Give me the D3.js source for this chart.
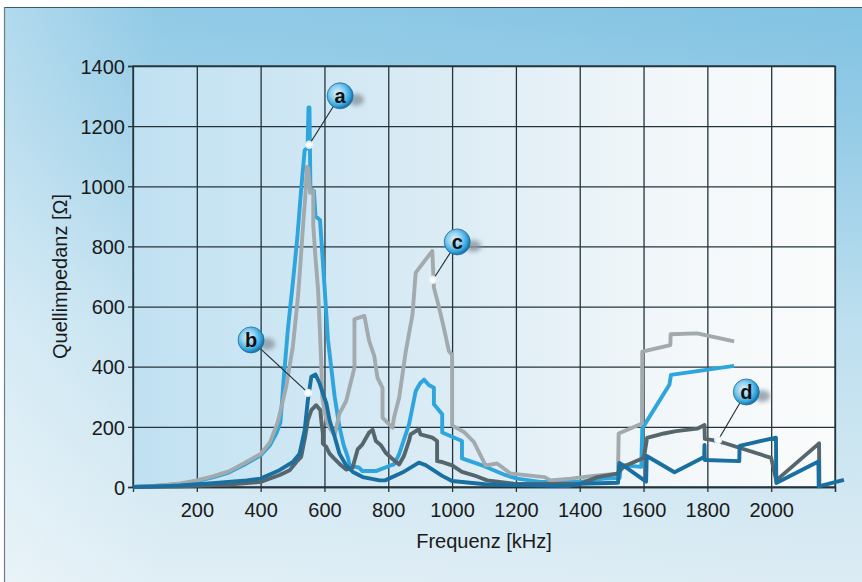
<!DOCTYPE html>
<html><head><meta charset="utf-8">
<script src="https://cdn.jsdelivr.net/npm/d3@7"></script>
<style>
html,body{margin:0;padding:0;background:#fff;}
svg{display:block;font-family:"Liberation Sans",Arial,Helvetica,sans-serif;}
</style></head>
<body>
<svg id="chart" width="862" height="582"></svg>
<script>
// ---- data (frequency kHz, impedance Ohm) ----
const xTicks = [200,400,600,800,1000,1200,1400,1600,1800,2000,2200];
const xTickLabels = ["200","400","600","800","1000","1200","1400","1600","1800","2000",""];
const yTicks = [0,200,400,600,800,1000,1200,1400];
const yTickLabels = ["0","200","400","600","800","1000","1200","1400"];
const xTitle = "Frequenz [kHz]";
const yTitle = "Quellimpedanz [Ω]";

const seriesA = [[0,0],[50,2],[100,6],[150,10],[200,20],[250,32],[300,48],[350,75],[400,105],[430,140],[450,180],[462,215],[472,355],[485,520],[502,690],[515,830],[527,990],[538,1120],[547,1128],[550,1262],[553,1262],[556,990],[567,985],[572,900],[586,888],[601,655],[611,490],[622,390],[632,300],[647,200],[660,140],[673,100],[679,72],[709,64],[719,53],[761,53],[803,70],[818,75],[834,109],[865,208],[886,319],[900,345],[912,357],[927,339],[943,330],[943,275],[969,242],[969,181],[1031,153],[1031,95],[1099,70],[1166,40],[1204,28],[1277,17],[1402,17],[1476,28],[1525,30],[1529,73],[1593,67],[1596,195],[1681,340],[1686,373],[1884,403]];
const seriesB = [[0,0],[100,3],[146,5],[250,13],[355,22],[400,28],[459,56],[501,83],[522,111],[538,189],[548,289],[559,367],[572,374],[585,344],[595,311],[606,278],[616,222],[632,167],[647,111],[668,72],[689,50],[720,33],[773,22],[790,22],[844,48],[896,81],[917,73],[969,37],[1000,20],[1104,9],[1364,3],[1402,11],[1520,14],[1524,80],[1545,65],[1608,18],[1610,103],[1697,49],[1790,100],[1791,140],[1792,90],[1900,86],[1901,137],[2015,164],[2016,13],[2148,85],[2149,2],[2228,24]];
const seriesC = [[0,0],[50,3],[100,7],[150,12],[200,22],[250,35],[300,52],[350,80],[400,110],[430,150],[454,217],[480,333],[501,467],[517,633],[524,732],[535,900],[539,950],[545,1065],[549,1060],[555,978],[565,985],[565,870],[572,760],[580,656],[590,411],[593,300],[606,222],[620,190],[632,172],[647,244],[668,286],[694,397],[694,558],[725,569],[740,486],[756,436],[766,364],[782,330],[782,231],[813,197],[818,231],[834,297],[855,452],[876,574],[886,713],[938,785],[943,663],[958,602],[974,530],[990,452],[1000,439],[1000,205],[1037,183],[1068,150],[1105,72],[1141,78],[1183,45],[1208,42],[1290,33],[1308,22],[1371,28],[1450,38],[1520,44],[1522,178],[1595,211],[1596,450],[1684,472],[1685,508],[1768,511],[1884,484]];
const seriesD = [[0,0],[150,2],[300,8],[400,17],[460,40],[491,56],[512,83],[527,100],[540,170],[548,222],[559,256],[574,272],[587,256],[590,222],[595,178],[595,144],[606,133],[616,111],[630,95],[652,72],[668,58],[688,64],[704,125],[719,142],[740,181],[751,190],[761,153],[776,140],[792,114],[808,98],[834,75],[849,103],[865,153],[870,175],[896,192],[901,175],[938,164],[953,153],[953,86],[969,83],[1000,72],[1031,50],[1068,39],[1110,22],[1193,11],[1400,10],[1455,33],[1517,44],[1538,68],[1601,97],[1611,163],[1664,178],[1702,186],[1768,194],[1791,206],[1792,160],[1817,156],[1848,148],[2000,97],[2016,22],[2150,145],[2151,8]];

const labelNames = ["a","b","c","d"];
const labelDots = [[552,1138],[549,313],[940,689],[1834,156]];
const labelBubbles = [[649,1301],[370,489],[1016,815],[1922,316]];

// ---- drawing ----
const svg = d3.select("#chart");
const W = 862, H = 582;
const x = d3.scaleLinear().domain([0,2200]).range([133,835]);
const y = d3.scaleLinear().domain([0,1400]).range([487,66]);

const defs = svg.append("defs");
const pg = defs.append("linearGradient").attr("id","panelG").attr("x1",0).attr("y1",0).attr("x2",0).attr("y2",1);
[[0,"#82c3e3"],[0.2,"#94cbe6"],[0.55,"#bddfef"],[1,"#dcecf4"]].forEach(s=>pg.append("stop").attr("offset",s[0]).attr("stop-color",s[1]));
const pl = defs.append("linearGradient").attr("id","panelL").attr("x1",0).attr("y1",0).attr("x2",1).attr("y2",0);
[[0,"#ffffff",0.38],[0.18,"#ffffff",0.12],[1,"#ffffff",0]].forEach(s=>pl.append("stop").attr("offset",s[0]).attr("stop-color",s[1]).attr("stop-opacity",s[2]));
const ag = defs.append("linearGradient").attr("id","plotG").attr("x1",0).attr("y1",0).attr("x2",1).attr("y2",0);
[[0,"#c0e1f2"],[0.45,"#dcecf5"],[0.8,"#f4f8fa"],[1,"#fafbfb"]].forEach(s=>ag.append("stop").attr("offset",s[0]).attr("stop-color",s[1]));
const bg = defs.append("radialGradient").attr("id","bubG").attr("cx","40%").attr("cy","40%").attr("r","60%");
[[0,"#e4f5fc"],[0.45,"#8fd0f0"],[0.8,"#33a5de"],[1,"#1c72a5"]].forEach(s=>bg.append("stop").attr("offset",s[0]).attr("stop-color",s[1]));
const blur = defs.append("filter").attr("id","blur").attr("x","-50%").attr("y","-50%").attr("width","200%").attr("height","200%");
blur.append("feGaussianBlur").attr("stdDeviation",2.2);

// panel
svg.append("rect").attr("x",0).attr("y",0).attr("width",W).attr("height",H).attr("fill","#fff");
svg.append("rect").attr("x",4).attr("y",7).attr("width",W-4).attr("height",H-7).attr("fill","url(#panelG)");
svg.append("rect").attr("x",4).attr("y",7).attr("width",W-4).attr("height",H-7).attr("fill","url(#panelL)");
svg.append("line").attr("x1",4).attr("x2",W).attr("y1",7.5).attr("y2",7.5).attr("stroke","#3d5663").attr("stroke-width",1.2);
svg.append("line").attr("x1",4.5).attr("x2",4.5).attr("y1",7).attr("y2",H).attr("stroke","#6a7f8a").attr("stroke-width",1.2);

// plot area
svg.append("rect").attr("x",x(0)).attr("y",y(1400)).attr("width",x(2200)-x(0)).attr("height",y(0)-y(1400)).attr("fill","url(#plotG)");

// grid
const grid = svg.append("g");
grid.append("g").attr("transform",`translate(0,${y(0)})`)
  .call(d3.axisBottom(x).tickValues(xTicks).tickSize(-(y(0)-y(1400))).tickFormat(""))
  .call(g=>g.select(".domain").remove())
  .call(g=>g.selectAll("line").attr("stroke","#24343c").attr("stroke-width",1.3));
grid.append("g").attr("transform",`translate(${x(0)},0)`)
  .call(d3.axisLeft(y).tickValues(yTicks).tickSize(-(x(2200)-x(0))).tickFormat(""))
  .call(g=>g.select(".domain").remove())
  .call(g=>g.selectAll("line").attr("stroke","#24343c").attr("stroke-width",1.3));
svg.append("rect").attr("x",x(0)).attr("y",y(1400)).attr("width",x(2200)-x(0)).attr("height",y(0)-y(1400))
  .attr("fill","none").attr("stroke","#24343c").attr("stroke-width",1.3);

// axes
const xa = svg.append("g").attr("transform",`translate(0,${y(0)})`)
  .call(d3.axisBottom(x).tickValues(xTicks).tickSize(5).tickPadding(6).tickFormat((d,i)=>xTickLabels[i]));
xa.select(".domain").attr("stroke","#24343c").attr("stroke-width",1.3);
xa.selectAll("line").attr("stroke","#24343c").attr("stroke-width",1.3);
xa.selectAll("text").attr("font-size",20).attr("fill","#1a1a1a").attr("font-family","'Liberation Sans',Arial,sans-serif").attr("dy","0.95em");
const ya = svg.append("g").attr("transform",`translate(${x(0)},0)`)
  .call(d3.axisLeft(y).tickValues(yTicks).tickSize(5).tickPadding(3).tickFormat((d,i)=>yTickLabels[i]));
ya.select(".domain").attr("stroke","#24343c").attr("stroke-width",1.3);
ya.selectAll("line").attr("stroke","#24343c").attr("stroke-width",1.3);
ya.selectAll("text").attr("font-size",20).attr("fill","#1a1a1a").attr("font-family","'Liberation Sans',Arial,sans-serif").attr("dy","0.36em");

svg.append("text").attr("x",(x(0)+x(2200))/2).attr("y",548).attr("text-anchor","middle")
  .attr("font-size",20).attr("fill","#1a1a1a").text(xTitle);
svg.append("text").attr("transform",`translate(67,${(y(0)+y(1400))/2}) rotate(-90)`).attr("text-anchor","middle")
  .attr("font-size",20).attr("fill","#1a1a1a").text(yTitle);

// series
const line = d3.line().x(d=>x(d[0])).y(d=>y(d[1]));
const series = [
  {data:seriesA, color:"#2ea5dd"},
  {data:seriesC, color:"#a2aaae"},
  {data:seriesD, color:"#56666d"},
  {data:seriesB, color:"#1a6fa1"}
];
svg.append("g").selectAll("path").data(series).join("path")
  .attr("d",d=>line(d.data)).attr("fill","none").attr("stroke",d=>d.color)
  .attr("stroke-width",3.9).attr("stroke-linejoin","round").attr("stroke-linecap","butt");

// callout labels
const lab = svg.append("g").selectAll("g").data(labelNames).join("g");
lab.append("line")
  .attr("x1",(d,i)=>x(labelBubbles[i][0])).attr("y1",(d,i)=>y(labelBubbles[i][1]))
  .attr("x2",(d,i)=>x(labelDots[i][0])).attr("y2",(d,i)=>y(labelDots[i][1]))
  .attr("stroke","#1d2a30").attr("stroke-width",1.1);
lab.append("circle").attr("cx",(d,i)=>x(labelDots[i][0])).attr("cy",(d,i)=>y(labelDots[i][1]))
  .attr("r",4.2).attr("fill","#eef4f6").attr("opacity",0.9);
lab.append("circle").attr("cx",(d,i)=>x(labelDots[i][0])).attr("cy",(d,i)=>y(labelDots[i][1]))
  .attr("r",2.6).attr("fill","#ffffff");
lab.append("ellipse").attr("cx",(d,i)=>x(labelBubbles[i][0])+16).attr("cy",(d,i)=>y(labelBubbles[i][1])+4)
  .attr("rx",8).attr("ry",6).attr("fill","#8797a0").attr("opacity",0.8).attr("filter","url(#blur)");
lab.append("circle").attr("cx",(d,i)=>x(labelBubbles[i][0])).attr("cy",(d,i)=>y(labelBubbles[i][1]))
  .attr("r",13).attr("fill","url(#bubG)").attr("stroke","#1f6e9c").attr("stroke-width",0.8);
lab.append("text").attr("x",(d,i)=>x(labelBubbles[i][0])).attr("y",(d,i)=>y(labelBubbles[i][1]))
  .attr("text-anchor","middle").attr("dy","0.36em").attr("font-size",20).attr("font-weight","bold")
  .attr("fill","#111").text(d=>d);
</script>
</body></html>
